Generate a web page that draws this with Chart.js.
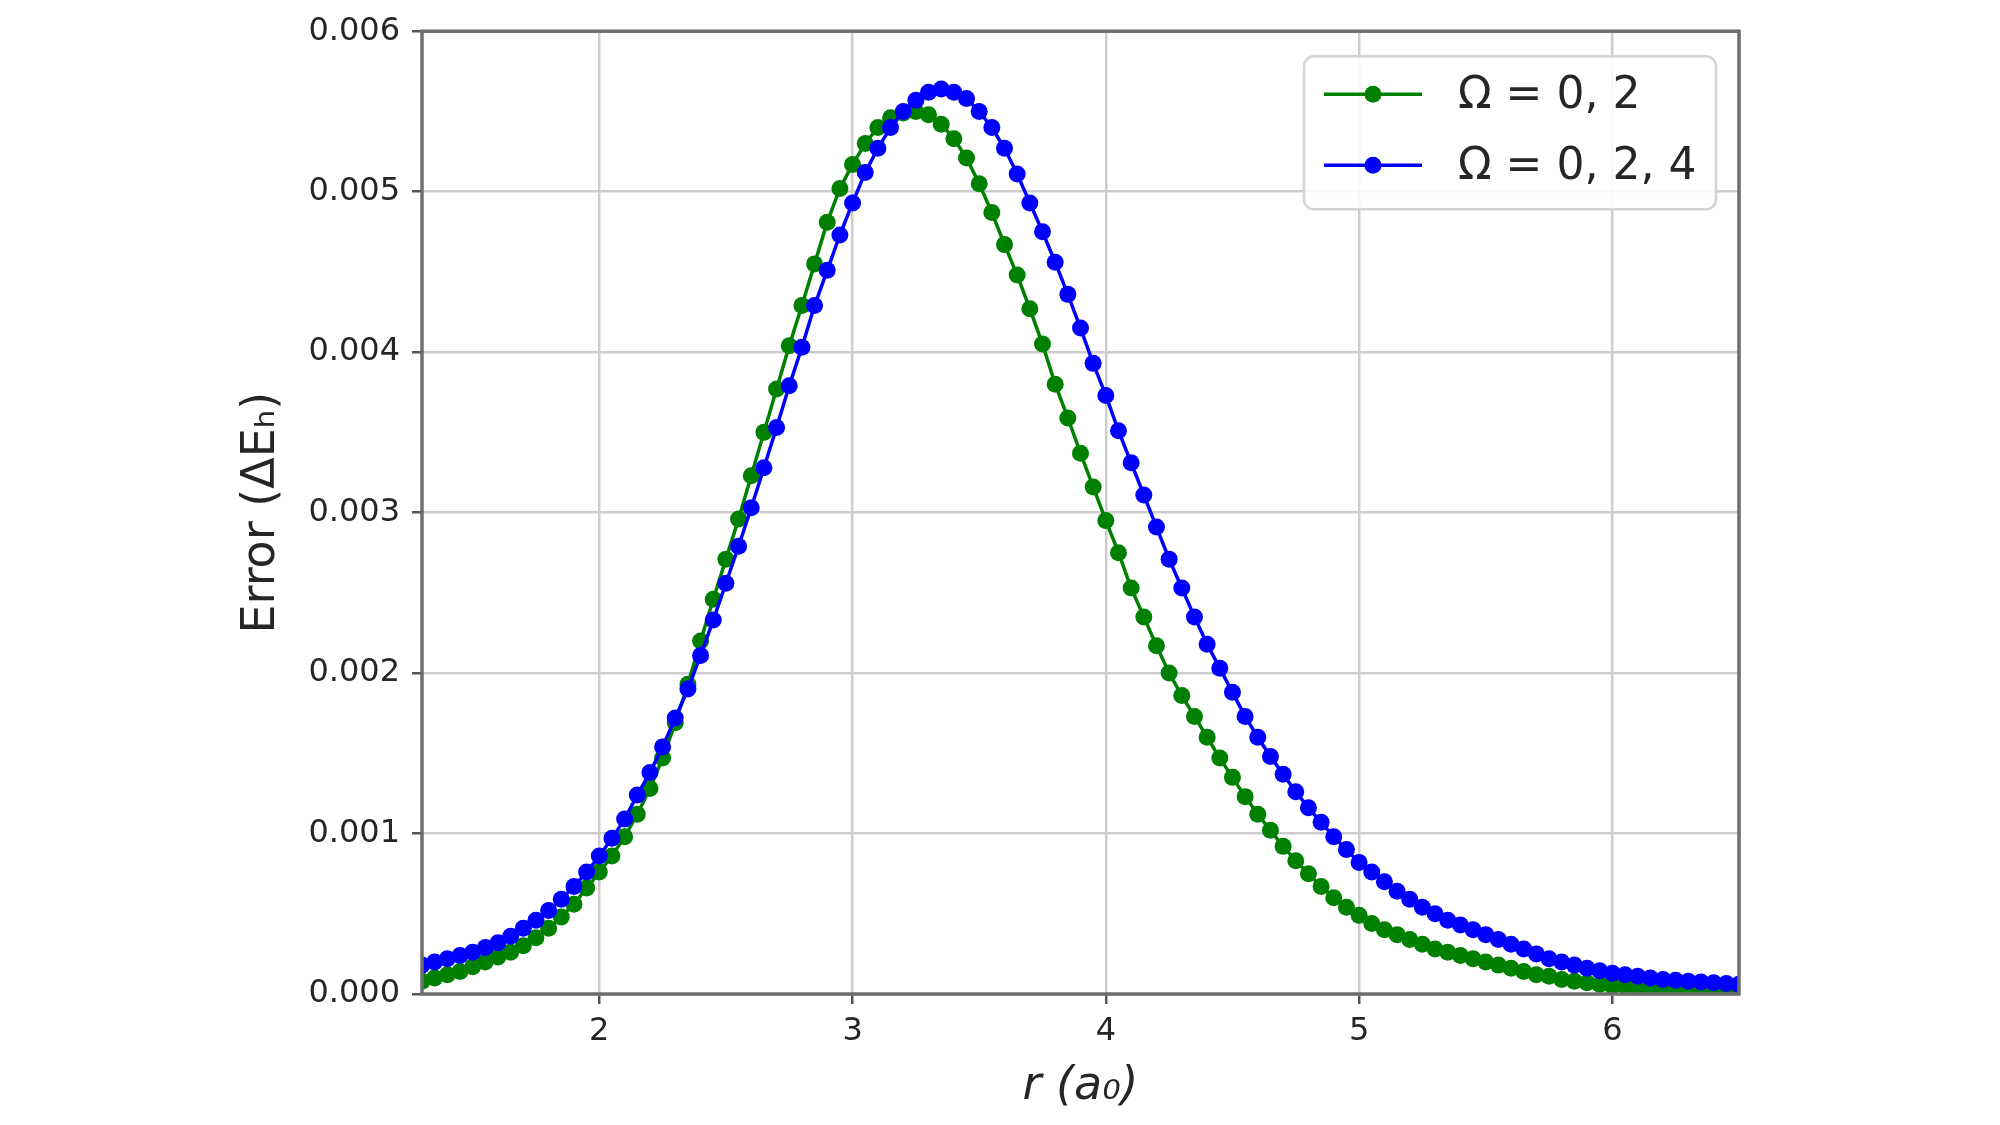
<!DOCTYPE html>
<html>
<head>
<meta charset="utf-8">
<title>Error vs r</title>
<script src="https://cdn.jsdelivr.net/npm/chart.js@4.4.1/dist/chart.umd.min.js"></script>
<style>
  html, body { margin: 0; padding: 0; background: #ffffff; }
  #chart-wrap { width: 2000px; height: 1125px; }
</style>
</head>
<body>
<div id="chart-wrap"><canvas id="my-chart" width="2000" height="1125"></canvas></div>
<script>
'use strict';

//**************DATA********** */
let rValues = [
  1.30, 1.35, 1.40, 1.45, 1.50, 1.55, 1.60, 1.65, 1.70, 1.75,
  1.80, 1.85, 1.90, 1.95, 2.00, 2.05, 2.10, 2.15, 2.20, 2.25,
  2.30, 2.35, 2.40, 2.45, 2.50, 2.55, 2.60, 2.65, 2.70, 2.75,
  2.80, 2.85, 2.90, 2.95, 3.00, 3.05, 3.10, 3.15, 3.20, 3.25,
  3.30, 3.35, 3.40, 3.45, 3.50, 3.55, 3.60, 3.65, 3.70, 3.75,
  3.80, 3.85, 3.90, 3.95, 4.00, 4.05, 4.10, 4.15, 4.20, 4.25,
  4.30, 4.35, 4.40, 4.45, 4.50, 4.55, 4.60, 4.65, 4.70, 4.75,
  4.80, 4.85, 4.90, 4.95, 5.00, 5.05, 5.10, 5.15, 5.20, 5.25,
  5.30, 5.35, 5.40, 5.45, 5.50, 5.55, 5.60, 5.65, 5.70, 5.75,
  5.80, 5.85, 5.90, 5.95, 6.00, 6.05, 6.10, 6.15, 6.20, 6.25,
  6.30, 6.35, 6.40, 6.45, 6.50
];

// Omega = 0, 2
let errorOmega02 = [
  0.00008, 0.00010, 0.00012, 0.00014, 0.00017, 0.00020, 0.00023, 0.00026, 0.00030, 0.00035,
  0.00041, 0.00048, 0.00056, 0.00066, 0.00076, 0.00086, 0.00098, 0.00112, 0.00128, 0.00147,
  0.00169, 0.00193, 0.00220, 0.00246, 0.00271, 0.00296, 0.00323, 0.00350, 0.00377, 0.00404,
  0.00429, 0.00455, 0.00481, 0.00502, 0.00517, 0.00530, 0.00540, 0.00546, 0.00549, 0.00550,
  0.00548, 0.00542, 0.00533, 0.00521, 0.00505, 0.00487, 0.00467, 0.00448, 0.00427, 0.00405,
  0.00380, 0.00359, 0.00337, 0.00316, 0.00295, 0.00275, 0.00253, 0.00235, 0.00217, 0.00200,
  0.00186, 0.00173, 0.00160, 0.00147, 0.00135, 0.00123, 0.00112, 0.00102, 0.00092, 0.00083,
  0.00075, 0.00067, 0.00060, 0.00054, 0.00049, 0.00044, 0.00040, 0.00037, 0.00034, 0.00031,
  0.00028, 0.00026, 0.00024, 0.00022, 0.00020, 0.00018, 0.00016, 0.00014, 0.00012, 0.00011,
  0.00009, 0.00008, 0.00007, 0.00006, 0.00005, 0.00005, 0.00004, 0.00004, 0.00003, 0.00003,
  0.00003, 0.00002, 0.00002, 0.00002, 0.00002
];

// Omega = 0, 2, 4
let errorOmega024 = [
  0.00018, 0.00020, 0.00022, 0.00024, 0.00026, 0.00029, 0.00032, 0.00036, 0.00041, 0.00046,
  0.00052, 0.00059, 0.00067, 0.00076, 0.00086, 0.00097, 0.00109, 0.00124, 0.00138, 0.00154,
  0.00172, 0.00190, 0.00211, 0.00233, 0.00256, 0.00279, 0.00303, 0.00328, 0.00353, 0.00379,
  0.00403, 0.00429, 0.00451, 0.00473, 0.00493, 0.00512, 0.00527, 0.00540, 0.00550, 0.00557,
  0.00562, 0.00564, 0.00562, 0.00558, 0.00550, 0.00540, 0.00527, 0.00511, 0.00493, 0.00475,
  0.00456, 0.00436, 0.00415, 0.00393, 0.00373, 0.00351, 0.00331, 0.00311, 0.00291, 0.00271,
  0.00253, 0.00235, 0.00218, 0.00203, 0.00188, 0.00173, 0.00160, 0.00148, 0.00137, 0.00126,
  0.00116, 0.00107, 0.00098, 0.00090, 0.00082, 0.00076, 0.00070, 0.00064, 0.00059, 0.00054,
  0.00050, 0.00046, 0.00043, 0.00040, 0.00037, 0.00034, 0.00031, 0.00028, 0.00025, 0.00022,
  0.00020, 0.00018, 0.00016, 0.000145, 0.00013, 0.00012, 0.00011, 0.00010, 0.00009, 0.000085,
  0.00008, 0.000075, 0.00007, 0.000065, 0.00006
];

let seriesLabels = ['Ω = 0, 2', 'Ω = 0, 2, 4'];
let xTicks = [2, 3, 4, 5, 6];
let yTicks = [0, 0.001, 0.002, 0.003, 0.004, 0.005, 0.006];

//*************CANVAS ELEMENT FOR CHART********* */
let ctx = document.getElementById('my-chart');

//************HELPER FUNCTIONS******* */
function toPoints(xs, ys) {
  let pts = [];
  for (let i = 0; i < xs.length; i++) {
    pts.push({ x: xs[i], y: ys[i] });
  }
  return pts;
}

function keepTicks(list) {
  return function (scale) {
    scale.ticks = list.map(v => ({ value: v }));
  };
}

// box around the plot, like matplotlib spines
let framePlugin = {
  id: 'frame',
  afterDatasetsDraw(chart) {
    let c = chart.ctx;
    let a = chart.chartArea;
    c.save();
    c.strokeStyle = '#6e6e6e';
    c.lineWidth = 3.5;
    c.strokeRect(a.left, a.top, a.right - a.left, a.bottom - a.top);
    c.restore();
  }
};

// legend box with line + marker, top right inside the plot
let legendPlugin = {
  id: 'mplLegend',
  afterDraw(chart) {
    let c = chart.ctx;
    let a = chart.chartArea;
    let boxW = 412;
    let boxH = 153;
    let x0 = a.right - 23 - boxW;
    let y0 = a.top + 25;
    c.save();
    c.beginPath();
    c.roundRect(x0, y0, boxW, boxH, 10);
    c.fillStyle = 'rgba(255,255,255,0.85)';
    c.fill();
    c.strokeStyle = '#d4d4d4';
    c.lineWidth = 2.5;
    c.stroke();

    chart.data.datasets.forEach((ds, i) => {
      let cy = y0 + 38 + i * 71;
      c.strokeStyle = ds.borderColor;
      c.lineWidth = ds.borderWidth;
      c.beginPath();
      c.moveTo(x0 + 20, cy);
      c.lineTo(x0 + 118, cy);
      c.stroke();
      c.fillStyle = ds.pointBackgroundColor;
      c.beginPath();
      c.arc(x0 + 69, cy, ds.pointRadius, 0, Math.PI * 2);
      c.fill();
      c.fillStyle = '#262626';
      c.font = '44px "DejaVu Sans"';
      c.textBaseline = 'middle';
      c.textAlign = 'left';
      c.fillText(ds.label, x0 + 154, cy + 2);
    });
    c.restore();
  }
};

//************CHART CONFIG*********** */
let chartObj = {
  type: 'line',
  data: {
    datasets: [{
      label: seriesLabels[0],
      data: toPoints(rValues, errorOmega02),
      borderColor: '#008000',
      backgroundColor: '#008000',
      pointBackgroundColor: '#008000',
      borderWidth: 3.5,
      pointRadius: 8.5,
      pointBorderWidth: 0,
      tension: 0,
      order: 1
    },
    {
      label: seriesLabels[1],
      data: toPoints(rValues, errorOmega024),
      borderColor: '#0000ff',
      backgroundColor: '#0000ff',
      pointBackgroundColor: '#0000ff',
      borderWidth: 3.5,
      pointRadius: 8.5,
      pointBorderWidth: 0,
      tension: 0,
      order: 0
    }]
  },
  options: {
    responsive: false,
    devicePixelRatio: 1,
    animation: false,
    layout: {
      padding: { left: 230, right: 261, top: 22, bottom: 10 }
    },
    plugins: {
      legend: { display: false },
      tooltip: { enabled: false }
    },
    scales: {
      x: {
        type: 'linear',
        min: 1.3,
        max: 6.5,
        afterBuildTicks: keepTicks(xTicks),
        afterFit(scale) { scale.height = 121; },
        border: { display: false },
        grid: {
          color: '#cdcdcd',
          lineWidth: 2.5,
          drawTicks: true,
          tickLength: 10,
          tickColor: '#555555',
          tickWidth: 2.5
        },
        ticks: {
          color: '#262626',
          padding: 8,
          maxRotation: 0,
          font: { family: 'DejaVu Sans', size: 32 },
          callback: (v) => String(v)
        },
        title: {
          display: true,
          text: 'r (a₀)',
          color: '#262626',
          padding: { top: 0, bottom: 0 },
          font: { family: 'DejaVu Sans', size: 46, style: 'italic' }
        }
      },
      y: {
        type: 'linear',
        min: 0,
        max: 0.006,
        afterBuildTicks: keepTicks(yTicks),
        afterFit(scale) { scale.width = 192; },
        border: { display: false },
        grid: {
          color: '#cdcdcd',
          lineWidth: 2.5,
          drawTicks: true,
          tickLength: 10,
          tickColor: '#555555',
          tickWidth: 2.5
        },
        ticks: {
          color: '#262626',
          padding: 12,
          font: { family: 'DejaVu Sans', size: 32 },
          callback: (v) => v.toFixed(3)
        },
        title: {
          display: true,
          text: 'Error (ΔEₕ)',
          color: '#262626',
          padding: { top: 4, bottom: 0 },
          font: { family: 'DejaVu Sans', size: 46 }
        }
      }
    }
  },
  plugins: [framePlugin, legendPlugin]
};

new Chart(ctx, chartObj);
</script>
</body>
</html>
